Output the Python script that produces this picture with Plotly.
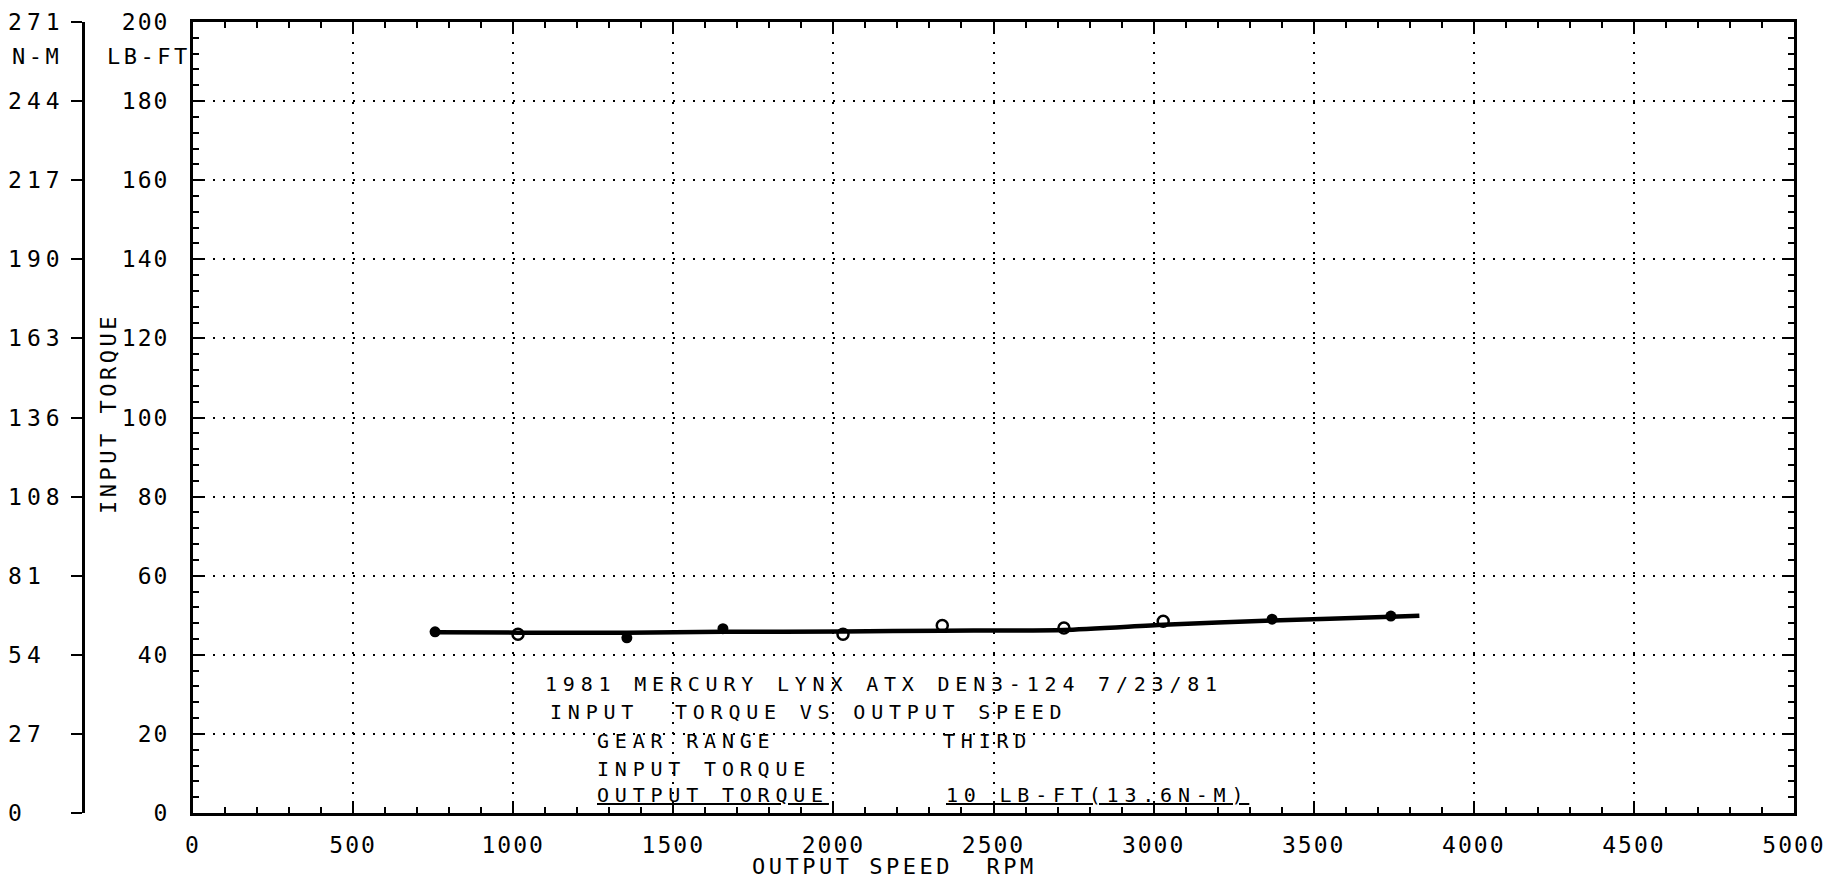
import plotly.graph_objects as go

# --- data ---
x_ticks = [0, 500, 1000, 1500, 2000, 2500, 3000, 3500, 4000, 4500, 5000]
x_labels = ["0", "500", "1000", "1500", "2000", "2500", "3000", "3500", "4000", "4500", "5000"]
y_ticks = [0, 20, 40, 60, 80, 100, 120, 140, 160, 180, 200]
lbft_labels = ["0", "20", "40", "60", "80", "100", "120", "140", "160", "180", "200"]
nm_labels = ["0", "27", "54", "81", "108", "136", "163", "190", "217", "244", "271"]

# faired curve (input torque, LB-FT vs output speed, RPM)
curve_rpm = [756, 1015, 1355, 1655, 2030, 2340, 2720, 3030, 3370, 3741, 3830]
curve_torque = [45.7, 45.6, 45.6, 45.8, 45.9, 46.1, 46.3, 47.6, 48.7, 49.6, 49.9]

# measured points
solid_rpm = [756, 1355, 1655, 3370, 3741]
solid_torque = [45.8, 44.3, 46.6, 49.0, 49.8]
open_rpm = [1015, 2030, 2340, 2720, 3030]
open_torque = [45.2, 45.2, 47.4, 46.8, 48.5]

# page has an 8px body margin, so reference pixels are shifted by 8
OFF = 8
W, H = 1845, 884
ML, MR, MT, MB = 0, W - (1794 - OFF), 22 - OFF, H - (813 - OFF)
PW = W - ML - MR
PH = H - MT - MB
def px(x):
    return (x - OFF - ML) / PW
def py(y):
    return (H - MB - (y - OFF)) / PH

FONT = "DejaVu Sans Mono"
tick_font = dict(family=FONT, size=23, color="black")
def spaced(s, n=2):
    return f'<span style="letter-spacing:{n}px">{s}</span>'

fig = go.Figure()

fig.add_trace(go.Scatter(
    x=curve_rpm, y=curve_torque, mode="lines",
    line=dict(color="black", width=4.5, shape="spline", smoothing=0.6),
    hoverinfo="skip", showlegend=False))
fig.add_trace(go.Scatter(
    x=solid_rpm, y=solid_torque, mode="markers",
    marker=dict(symbol="circle", size=11, color="black"),
    showlegend=False))
fig.add_trace(go.Scatter(
    x=open_rpm, y=open_torque, mode="markers",
    marker=dict(symbol="circle-open", size=11, color="black", line=dict(width=2.5)),
    showlegend=False))
# dummy trace so the N-M axis is drawn
fig.add_trace(go.Scatter(x=[None], y=[None], yaxis="y2", showlegend=False))

grid = dict(showgrid=True, gridcolor="black", gridwidth=1.5, griddash="2px,8px",
            showline=True, linecolor="black", linewidth=3, mirror="ticks",
            ticks="inside", ticklen=12, tickwidth=2, tickcolor="black",
            zeroline=False, automargin=False, tickfont=tick_font)

fig.update_layout(
    width=W, height=H,
    margin=dict(l=ML, r=MR, t=MT, b=MB),
    paper_bgcolor="white", plot_bgcolor="white",
    font=dict(family=FONT, color="black"),
    xaxis=dict(
        domain=[px(193), 1], range=[0, 5000],
        tickmode="array", tickvals=x_ticks, ticktext=[spaced(s) for s in x_labels],
        minor=dict(dtick=100, tick0=0, ticks="inside", ticklen=6, tickwidth=2,
                   tickcolor="black", showgrid=False),
        ticklabelstandoff=9, **grid,
    ),
    yaxis=dict(
        range=[0, 200],
        tickmode="array", tickvals=y_ticks, ticktext=[spaced(s) for s in lbft_labels],
        minor=dict(dtick=4, tick0=0, ticks="inside", ticklen=6, tickwidth=2,
                   tickcolor="black", showgrid=False),
        ticklabelstandoff=16, **grid,
    ),
    yaxis2=dict(
        overlaying="y", anchor="free", position=px(83), side="left",
        range=[0, 200],
        tickmode="array", tickvals=y_ticks,
        ticktext=[spaced(s + "\u00a0" * (3 - len(s)), 5) for s in nm_labels],
        tickfont=tick_font,
        showgrid=False, zeroline=False,
        showline=True, linecolor="black", linewidth=2.5,
        ticks="outside", ticklen=11, tickwidth=2, tickcolor="black",
        ticklabelstandoff=2, automargin=False,
    ),
)

def block(text, x, y):
    fig.add_annotation(
        text=spaced(text, 5.8), x=x, y=y, xref="x", yref="y",
        xanchor="left", yanchor="middle", showarrow=False,
        font=dict(family=FONT, size=20, color="black"))

block("1981 MERCURY LYNX ATX DEN3-124 7/23/81", 1093, 32.6)
block("INPUT\u00a0\u00a0TORQUE VS OUTPUT SPEED", 1109, 25.5)
block("GEAR RANGE", 1255, 18.2)
block("THIRD", 2336, 18.2)
block("INPUT TORQUE", 1255, 11.2)
block("<u>OUTPUT TORQUE</u>", 1255, 4.6)
block("<u>10 LB-FT(13.6N-M)</u>", 2345, 4.6)

labels = [
    ("N-M", px(10), py(57), "left", 0),
    ("LB-FT", px(193), py(57), "right", 0),
    ("INPUT TORQUE", px(108), py(414), "center", -90),
    ("OUTPUT SPEED\u00a0\u00a0RPM", px(894), py(866), "center", 0),
]
for text, x, y, anchor, ang in labels:
    fig.add_annotation(
        text=spaced(text, 3.5), x=x, y=y,
        xref="paper", yref="paper", xanchor=anchor, yanchor="middle",
        textangle=ang, showarrow=False,
        font=dict(family=FONT, size=22, color="black"))

fig.write_html("out.html")
